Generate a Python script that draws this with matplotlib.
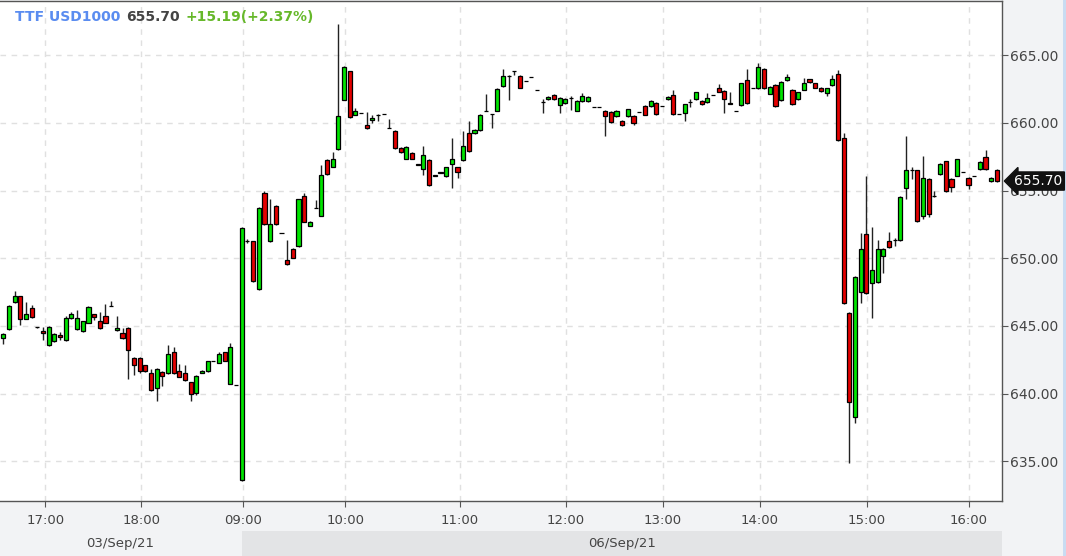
import matplotlib
matplotlib.use('Agg')
import matplotlib.pyplot as plt
import matplotlib.transforms as mtransforms
from matplotlib.patches import Rectangle

# 5 minute candles, TTF USD1000, 03/Sep/21 afternoon -> 06/Sep/21
opens = [
    644.1, 644.75, 646.75, 647.2, 645.55, 646.35, 644.9, 644.65, 643.6, 643.9,
    644.35, 643.95, 645.6, 644.8, 644.6, 645.25, 645.85, 645.4, 645.75, 646.45,
    644.7, 644.5, 644.85, 642.65, 642.65, 642.1, 641.5, 640.4, 641.6, 641.5,
    643.05, 641.65, 641.55, 640.85, 640.05, 641.55, 641.65, 642.4, 642.3, 643.05,
    640.75, 640.65, 633.6,
    651.25, 651.25, 647.7, 654.8, 651.25, 653.85, 651.85, 649.85, 650.7, 650.9,
    654.6, 652.4, 653.7, 653.15, 657.25, 656.75, 658.05, 661.7, 663.8, 660.6,
    660.75, 659.8, 660.2, 660.55,
    660.65, 659.65, 659.4, 658.15, 657.35, 657.8, 656.95, 656.6, 657.25, 656.15,
    656.3, 656.05, 656.95, 656.7, 657.25, 659.25, 659.25, 659.45, 660.9, 660.65,
    660.9, 662.7, 663.45, 663.8, 663.45, 663.1, 663.4, 662.45, 661.5, 661.75,
    662.05, 661.3, 661.45, 661.85, 660.9, 661.6, 661.6, 661.2, 661.2,
    660.9, 660.8, 660.5, 660.15, 660.5, 660.5, 660.8, 661.25, 661.25, 661.45,
    661.25, 661.75, 662.05, 660.65, 660.7, 661.55, 661.75, 661.6, 661.5, 662.05,
    662.6, 662.35, 661.45, 660.9, 661.3, 663.15, 662.6, 662.55, 664.0, 662.15,
    662.8, 661.65, 663.15, 662.45, 661.75, 662.45, 663.2, 662.9, 662.6, 662.2,
    662.8, 663.6,
    658.85, 645.95, 638.3, 647.5, 651.8, 648.15, 648.25, 650.2, 651.25, 651.35,
    651.35, 655.15, 656.55, 656.5, 653.1, 655.85, 654.6, 656.2, 657.15, 655.85,
    656.1, 656.35, 655.95, 656.1, 656.6, 657.5, 655.7, 656.55,
]
highs = [
    644.5, 646.55, 647.6, 647.25, 646.8, 646.55, 644.95, 644.95, 645.0, 644.45,
    644.55, 645.75, 646.05, 646.2, 645.4, 646.45, 645.9, 646.05, 646.65, 646.85,
    645.75, 644.85, 644.9, 642.7, 642.7, 642.15, 641.85, 641.9, 641.65, 643.6,
    643.45, 642.2, 642.1, 640.9, 641.35, 641.75, 642.45, 642.4, 643.1, 643.1,
    643.75, 640.65, 652.3,
    651.45, 651.3, 653.75, 655.0, 654.4, 653.9, 651.85, 651.35, 650.75, 654.4,
    654.8, 652.75, 654.3, 656.85, 657.3, 657.85, 667.3, 664.2, 663.85, 661.1,
    660.75, 660.8, 660.55, 660.65,
    660.65, 660.3, 659.45, 658.2, 658.25, 657.85, 656.95, 658.25, 657.3, 656.15,
    656.4, 656.75, 658.85, 656.75, 659.4, 660.15, 659.55, 660.65, 662.1, 660.65,
    662.55, 663.95, 663.5, 663.8, 663.5, 663.1, 663.4, 662.45, 661.75, 661.95,
    662.1, 661.9, 661.8, 661.95, 661.65, 662.2, 661.95, 661.2, 661.2,
    660.95, 660.85, 660.95, 660.2, 661.05, 660.55, 660.8, 661.3, 661.65, 661.5,
    661.25, 661.95, 662.4, 660.65, 661.4, 661.75, 662.3, 661.65, 662.2, 662.05,
    662.85, 662.4, 662.3, 660.9, 662.95, 664.0, 662.6, 664.4, 664.05, 662.7,
    662.85, 663.05, 663.6, 662.5, 662.3, 663.3, 663.25, 662.95, 662.65, 662.6,
    663.5, 663.9,
    659.25, 646.0, 648.7, 651.85, 656.1, 652.3, 651.35, 650.75, 651.95, 651.5,
    654.6, 659.0, 656.7, 656.55, 657.55, 655.9, 655.0, 657.0, 657.2, 655.9,
    657.35, 656.35, 656.0, 656.1, 657.15, 658.0, 656.0, 656.6,
]
lows = [
    643.7, 644.7, 646.7, 645.05, 645.5, 645.6, 644.85, 643.95, 643.5, 643.85,
    643.95, 643.9, 645.55, 644.7, 644.55, 645.2, 645.45, 644.8, 645.2, 646.45,
    644.65, 644.05, 641.05, 641.4, 641.55, 641.6, 640.2, 639.45, 640.6, 641.45,
    641.45, 641.2, 640.95, 639.45, 639.9, 641.5, 641.6, 642.4, 642.25, 642.4,
    640.7, 640.65, 633.55,
    651.1, 648.25, 647.65, 652.45, 651.2, 652.45, 651.85, 649.5, 650.0, 650.85,
    652.65, 652.35, 653.7, 653.1, 656.15, 656.7, 658.0, 661.65, 660.35, 660.55,
    660.75, 659.55, 660.0, 660.1,
    660.65, 659.6, 658.1, 657.8, 657.3, 657.3, 656.9, 656.15, 655.35, 656.1,
    656.3, 656.0, 655.15, 655.95, 657.2, 657.85, 659.2, 659.4, 660.85, 659.6,
    660.85, 662.65, 661.65, 663.5, 662.55, 663.1, 663.4, 662.45, 660.75, 661.7,
    661.7, 660.7, 661.4, 660.95, 660.85, 661.55, 661.55, 661.2, 661.2,
    659.0, 660.0, 660.45, 659.75, 660.45, 659.8, 660.8, 660.55, 661.2, 660.6,
    661.25, 661.7, 660.6, 660.65, 660.1, 661.2, 661.7, 661.3, 661.45, 662.05,
    662.25, 660.7, 661.4, 660.85, 661.25, 661.4, 662.6, 662.5, 662.5, 662.1,
    661.2, 661.6, 663.1, 661.3, 661.7, 662.4, 662.95, 662.55, 662.3, 662.0,
    662.75, 658.65,
    646.65, 634.85, 637.85, 646.7, 647.35, 645.6, 648.2, 648.9, 650.75, 650.9,
    651.3, 654.4, 655.85, 652.7, 652.9, 653.05, 654.5, 656.15, 654.9, 654.9,
    656.05, 656.35, 655.1, 656.1, 656.55, 656.55, 655.6, 655.65,
]
closes = [
    644.4, 646.5, 647.2, 645.55, 645.85, 645.65, 644.9, 644.45, 644.9, 644.4,
    644.2, 645.6, 645.85, 645.6, 645.35, 646.4, 645.65, 644.85, 645.25, 646.45,
    644.85, 644.1, 643.2, 642.1, 641.7, 641.65, 640.25, 641.85, 641.3, 642.95,
    641.5, 641.25, 641.0, 640.0, 641.3, 641.7, 642.4, 642.4, 642.9, 642.45,
    643.45, 640.65, 652.25,
    651.3, 648.3, 653.7, 652.5, 652.5, 652.5, 651.85, 649.6, 650.05, 654.35,
    652.7, 652.7, 653.7, 656.15, 656.2, 657.35, 660.5, 664.15, 660.4, 660.85,
    660.75, 659.6, 660.35, 660.55,
    660.65, 659.6, 658.15, 657.85, 658.2, 657.35, 656.9, 657.6, 655.4, 656.1,
    656.35, 656.7, 657.3, 656.35, 658.25, 657.9, 659.5, 660.6, 660.85, 660.65,
    662.5, 663.45, 663.45, 663.8, 662.6, 663.1, 663.4, 662.45, 661.5, 661.9,
    661.75, 661.85, 661.75, 661.85, 661.6, 662.0, 661.9, 661.2, 661.2,
    660.5, 660.05, 660.9, 659.8, 661.0, 660.0, 660.8, 660.6, 661.6, 660.65,
    661.25, 661.9, 660.65, 660.65, 661.35, 661.55, 662.25, 661.35, 661.8, 662.05,
    662.3, 661.75, 661.4, 660.85, 662.9, 661.45, 662.6, 664.15, 662.55, 662.65,
    661.25, 663.0, 663.4, 661.35, 662.25, 662.9, 663.0, 662.6, 662.35, 662.55,
    663.25, 658.7,
    646.7, 639.4, 648.65, 650.65, 647.4, 649.15, 650.7, 650.7, 650.8, 651.35,
    654.55, 656.55, 656.55, 652.75, 655.95, 653.3, 654.6, 656.95, 654.95, 655.25,
    657.3, 656.35, 655.4, 656.1, 657.1, 656.6, 655.95, 655.7,
]

# hour ticks sit between candles (gaps in trading)
hour_ticks = [7.43, 24.33, 42.29, 60.26, 80.38, 99.05, 116.19, 133.19, 152.1, 170.07]
hour_labels = ['17:00', '18:00', '09:00', '10:00', '11:00', '12:00', '13:00', '14:00', '15:00', '16:00']
price_ticks = [635, 640, 645, 650, 655, 660, 665]
day_labels = ['03/Sep/21', '06/Sep/21']

last_price = 655.70
change = 15.19
change_pct = 2.37

W, H = 1066, 556
GREEN = '#00e400'
RED = '#e40000'
BG = '#f2f3f5'


def fx(px):
    return px / W


def fy(py):
    return 1 - py / H


def plot_candles():
    fig = plt.figure(figsize=(W / 100, H / 100), dpi=100, facecolor=BG)
    ax = fig.add_axes([0, fy(501), fx(1002), fy(1) - fy(501)])
    ax.set_facecolor('white')

    n = len(closes)
    xs = list(range(n))

    # wicks first, bodies on top
    ax.vlines(xs, lows, highs, color='#222222', linewidth=1, zorder=2)
    bottoms = [min(o, c) for o, c in zip(opens, closes)]
    heights = [abs(c - o) for o, c in zip(opens, closes)]
    colors = [GREEN if c > o else (RED if c < o else 'black') for o, c in zip(opens, closes)]
    ax.bar(xs, heights, bottom=bottoms, width=0.72, color=colors,
           edgecolor='black', linewidth=0.9, zorder=3)

    ax.set_xlim(-0.58, 175.9)
    ax.set_ylim(632.08, 668.99)

    ax.grid(True, color='#e0e0e0', linestyle=(0, (4, 4)), linewidth=1)
    ax.set_axisbelow(True)

    ax.set_xticks(hour_ticks)
    ax.set_xticklabels(hour_labels, fontsize=9.5, color='#444444')
    ax.set_yticks(price_ticks)
    ax.set_yticklabels(['%.2f' % p for p in price_ticks], fontsize=10, color='#444444')
    ax.yaxis.tick_right()
    ax.tick_params(axis='x', direction='out', length=4, color='#555555', pad=5)
    ax.tick_params(axis='y', direction='out', length=4, color='#555555', pad=2)

    ax.spines['left'].set_visible(False)
    for side in ['right', 'bottom', 'top']:
        ax.spines[side].set_color('#555555')
        ax.spines[side].set_linewidth(1)

    # last price tag on the price axis
    trans = mtransforms.blended_transform_factory(ax.transAxes, ax.transData)
    ax.text(1.012, last_price, '%.2f' % last_price, transform=trans, ha='left', va='center',
            fontsize=10, color='white', zorder=10, clip_on=False,
            bbox=dict(boxstyle='larrow,pad=0.15', fc='#111111', ec='#111111'))

    # title: symbol, price, change
    t1 = ax.text(fx(15) / fx(1002), 1 - 16 / 500, 'TTF USD1000', transform=ax.transAxes,
                 ha='left', va='center', fontsize=10, fontweight='bold', color='#5a8cf0')
    t2 = ax.annotate('%.2f' % last_price, xy=(1, 0.5), xycoords=t1, xytext=(4, 0),
                     textcoords='offset points', ha='left', va='center',
                     fontsize=10, fontweight='bold', color='#444444')
    ax.annotate('%+.2f(%+.2f%%)' % (change, change_pct), xy=(1, 0.5), xycoords=t2,
                xytext=(4, 0), textcoords='offset points', ha='left', va='center',
                fontsize=10, fontweight='bold', color='#66b82a')

    # day strip under the time axis
    fig.add_artist(Rectangle((fx(242), 0), fx(1002) - fx(242), fy(531), transform=fig.transFigure,
                             facecolor='#e3e4e6', edgecolor='none', zorder=0))
    fig.add_artist(Rectangle((fx(1063), 0), fx(3), 1, transform=fig.transFigure,
                             facecolor='#c9dcf2', edgecolor='none', zorder=0))
    fig.text(fx(120), fy(543), day_labels[0], ha='center', va='center', fontsize=9.5,
             color='#444444')
    fig.text(fx(622), fy(543), day_labels[1], ha='center', va='center', fontsize=9.5,
             color='#444444')

    fig.savefig('out.png', dpi=100, facecolor=BG)


plot_candles()
